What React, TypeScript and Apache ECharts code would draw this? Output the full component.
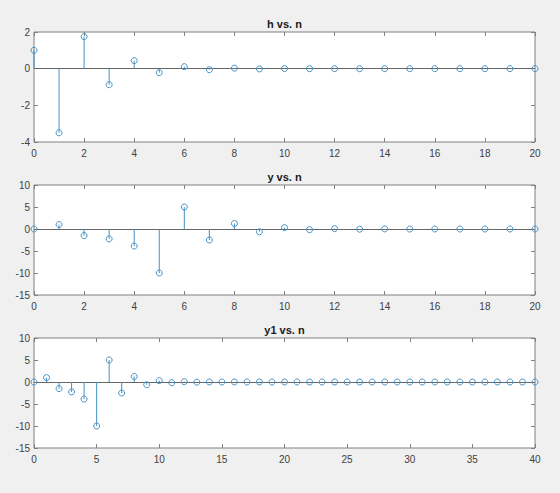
import React, { useEffect, useRef } from "react";
import * as echarts from "echarts";

// Sample indices
const nShort = Array.from({ length: 21 }, (_, i) => i);
const nLong = Array.from({ length: 41 }, (_, i) => i);

// Impulse response h[n]
const hValues = [
  1, -3.5, 1.75, -0.875, 0.4375, -0.219, 0.109, -0.055, 0.027, -0.014, 0.007,
  -0.003, 0.002, -0.001, 0, 0, 0, 0, 0, 0, 0,
];

// Output y[n]
const yValues = [
  0, 1, -1.5, -2.25, -3.875, -10, 5, -2.5, 1.25, -0.625, 0.313, -0.156, 0.078,
  -0.039, 0.02, -0.01, 0.005, -0.002, 0.001, 0, 0,
];

// Output y1[n] over the longer range
const y1Values = [
  0, 1, -1.5, -2.25, -3.875, -10, 5, -2.5, 1.25, -0.625, 0.313, -0.156, 0.078,
  -0.039, 0.02, -0.01, 0.005, -0.002, 0.001, 0, 0, 0, 0, 0, 0, 0, 0, 0, 0, 0,
  0, 0, 0, 0, 0, 0, 0, 0, 0, 0, 0,
];

const titles = ["h vs. n", "y vs. n", "y1 vs. n"];

const STEM = "#4592c6";
const AXIS = "#808080";
const TEXT = "#404040";
const FONT = "'Liberation Sans', Arial, sans-serif";

const gridTops = [32, 185, 338];
const GRID_H = 110;
const GRID_L = 34;
const GRID_R = 25;

const panels = [
  { n: nShort, v: hValues, xMax: 20, xInt: 2, yMin: -4, yMax: 2, yInt: 2 },
  { n: nShort, v: yValues, xMax: 20, xInt: 2, yMin: -15, yMax: 10, yInt: 5 },
  { n: nLong, v: y1Values, xMax: 40, xInt: 5, yMin: -15, yMax: 10, yInt: 5 },
];

export default function App() {
  const ref = useRef<HTMLDivElement>(null);

  useEffect(() => {
    document.body.style.margin = "0";
    document.body.style.background = "#f0f0f0";
    if (!ref.current) return;
    const chart = echarts.init(ref.current, undefined, { renderer: "svg" });

    const grids: any[] = [];
    const xAxes: any[] = [];
    const yAxes: any[] = [];
    const series: any[] = [];
    const titleOpts: any[] = [];

    panels.forEach((p, i) => {
      grids.push({
        left: GRID_L,
        right: GRID_R,
        top: gridTops[i],
        height: GRID_H,
        show: true,
        backgroundColor: "#ffffff",
        borderColor: AXIS,
        borderWidth: 1,
      });
      titleOpts.push({
        text: titles[i],
        left: (GRID_L + (560 - GRID_R)) / 2,
        top: gridTops[i] - 14,
        padding: 0,
        textAlign: "center",
        textStyle: {
          fontFamily: FONT,
          fontSize: 11,
          fontWeight: "bold",
          color: "#1a1a1a",
        },
      });
      const common = {
        type: "value",
        gridIndex: i,
        splitLine: { show: false },
        axisLine: { show: false, onZero: false },
        axisTick: { show: true, inside: true, length: 4, lineStyle: { color: AXIS } },
      };
      // bottom x axis with labels
      xAxes.push({
        ...common,
        position: "bottom",
        min: 0,
        max: p.xMax,
        interval: p.xInt,
        axisLabel: { color: TEXT, fontFamily: FONT, fontSize: 10, margin: 6 },
      });
      // top x axis: ticks only
      xAxes.push({
        ...common,
        position: "top",
        min: 0,
        max: p.xMax,
        interval: p.xInt,
        axisLabel: { show: false },
      });
      yAxes.push({
        ...common,
        position: "left",
        min: p.yMin,
        max: p.yMax,
        interval: p.yInt,
        axisLabel: { color: TEXT, fontFamily: FONT, fontSize: 10, margin: 4 },
      });
      yAxes.push({
        ...common,
        position: "right",
        min: p.yMin,
        max: p.yMax,
        interval: p.yInt,
        axisLabel: { show: false },
      });

      series.push({
        type: "custom",
        xAxisIndex: i * 2,
        yAxisIndex: i * 2,
        clip: false,
        data: p.n.map((n, k) => [n, p.v[k]]),
        renderItem: (params: any, api: any) => {
          const x = api.value(0);
          const v = api.value(1);
          const top = api.coord([x, v]);
          const base = api.coord([x, 0]);
          return {
            type: "group",
            children: [
              {
                type: "line",
                shape: { x1: base[0], y1: base[1], x2: top[0], y2: top[1] },
                style: { stroke: STEM, lineWidth: 1 },
              },
              {
                type: "circle",
                shape: { cx: top[0], cy: top[1], r: 3 },
                style: { fill: "none", stroke: STEM, lineWidth: 1 },
              },
            ],
          };
        },
        markLine: {
          silent: true,
          symbol: "none",
          label: { show: false },
          lineStyle: { color: "#666666", width: 1, type: "solid" },
          data: [{ yAxis: 0 }],
          z: 1,
        },
        z: 3,
      });
    });

    chart.setOption({
      animation: false,
      backgroundColor: "#f0f0f0",
      title: titleOpts,
      grid: grids,
      xAxis: xAxes,
      yAxis: yAxes,
      series,
    });

    return () => chart.dispose();
  }, []);

  return <div ref={ref} style={{ width: 560, height: 493 }} />;
}
